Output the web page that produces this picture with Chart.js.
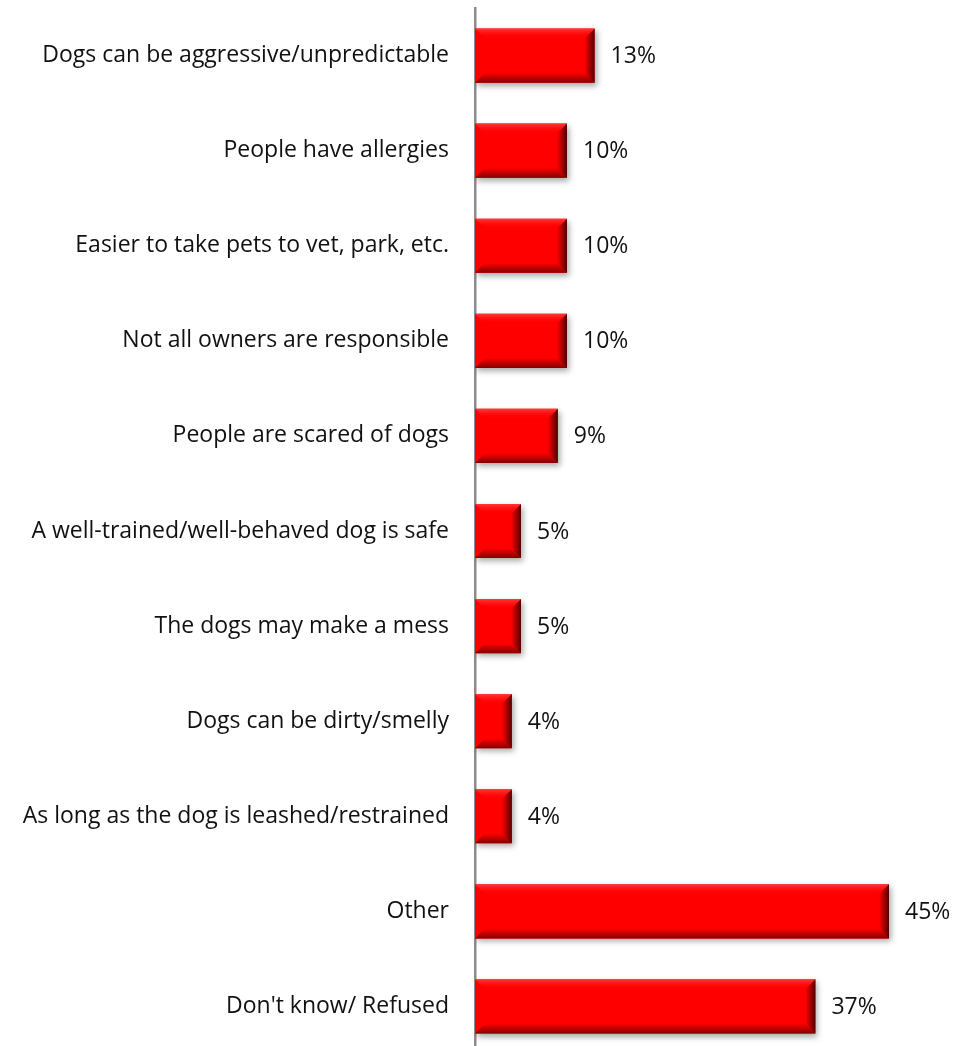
<!DOCTYPE html>
<html>
<head>
<meta charset="utf-8">
<script src="https://cdn.jsdelivr.net/npm/chart.js@4"></script>
<style>
  html, body { margin: 0; padding: 0; background: #fff; overflow: hidden; }
  canvas { display: block; }
</style>
</head>
<body>
<canvas id="myChart" width="968" height="1054"></canvas>
<script>
const categories = [
    'Dogs can be aggressive/unpredictable',
    'People have allergies',
    'Easier to take pets to vet, park, etc.',
    'Not all owners are responsible',
    'People are scared of dogs',
    'A well-trained/well-behaved dog is safe',
    'The dogs may make a mess',
    'Dogs can be dirty/smelly',
    'As long as the dog is leashed/restrained',
    'Other',
    "Don't know/ Refused"
];
const percents = [13, 10, 10, 10, 9, 5, 5, 4, 4, 45, 37];

const FONT = "'Open Sans', sans-serif";

// soft drop shadow under the bars
const barShadow = {
    id: 'barShadow',
    beforeDatasetDraw(chart) {
        const ctx = chart.ctx;
        ctx.save();
        ctx.shadowColor = 'rgba(0,0,0,0.35)';
        ctx.shadowBlur = 6;
        ctx.shadowOffsetX = 2;
        ctx.shadowOffsetY = 3;
    },
    afterDatasetDraw(chart) {
        chart.ctx.restore();
    }
};

// bevelled edges + value labels
const barBevel = {
    id: 'barBevel',
    afterDatasetsDraw(chart) {
        const ctx = chart.ctx;
        const meta = chart.getDatasetMeta(0);
        meta.data.forEach((bar, i) => {
            const left = bar.base, right = bar.x;
            const top = bar.y - bar.height / 2, bottom = bar.y + bar.height / 2;
            const b = Math.min(10, (right - left) / 2);

            // bottom edge
            let g = ctx.createLinearGradient(0, bottom - b, 0, bottom);
            g.addColorStop(0, '#ff0000');
            g.addColorStop(1, '#820000');
            ctx.fillStyle = g;
            ctx.beginPath();
            ctx.moveTo(left, bottom);
            ctx.lineTo(right, bottom);
            ctx.lineTo(right - b, bottom - b);
            ctx.lineTo(left + b, bottom - b);
            ctx.closePath();
            ctx.fill();

            // right edge
            g = ctx.createLinearGradient(right - b, 0, right, 0);
            g.addColorStop(0, '#ff0000');
            g.addColorStop(1, '#500000');
            ctx.fillStyle = g;
            ctx.beginPath();
            ctx.moveTo(right, top);
            ctx.lineTo(right, bottom);
            ctx.lineTo(right - b, bottom - b);
            ctx.lineTo(right - b, top + b);
            ctx.closePath();
            ctx.fill();

            // top highlight
            g = ctx.createLinearGradient(0, top, 0, top + b);
            g.addColorStop(0, '#ff3a3a');
            g.addColorStop(1, 'rgba(255,0,0,0)');
            ctx.fillStyle = g;
            ctx.beginPath();
            ctx.moveTo(left, top);
            ctx.lineTo(right, top);
            ctx.lineTo(right - b, top + b);
            ctx.lineTo(left + b, top + b);
            ctx.closePath();
            ctx.fill();

            // value label
            ctx.fillStyle = '#111';
            ctx.font = '23px ' + FONT;
            ctx.textAlign = 'left';
            ctx.textBaseline = 'middle';
            ctx.fillText(percents[i] + '%', right + 16, bar.y + 1);
        });
    }
};

const ctx = document.getElementById('myChart').getContext('2d');
const myChart = new Chart(ctx, {
    type: 'bar',
    data: {
        labels: categories,
        datasets: [{
            data: percents,
            backgroundColor: '#ff0000',
            borderWidth: 0,
            barPercentage: 0.57,
            categoryPercentage: 1
        }]
    },
    plugins: [barShadow, barBevel],
    options: {
        indexAxis: 'y',
        responsive: false,
        animation: false,
        layout: { padding: { top: 8, right: 33, bottom: 0, left: 0 } },
        plugins: {
            legend: { display: false },
            tooltip: { enabled: false }
        },
        scales: {
            x: {
                display: false,
                min: 0,
                max: 50
            },
            y: {
                afterFit(scale) {
                    scale.width = 475;
                    // labels sit inside the category bands, no extra room needed
                    scale.paddingTop = 0;
                    scale.paddingBottom = 0;
                },
                grid: { display: false, drawTicks: false },
                border: { display: true, color: '#8c8c8c', width: 2.5 },
                ticks: {
                    color: '#111',
                    padding: 26,
                    font: { family: FONT, size: 23 }
                }
            }
        }
    }
});
</script>
</body>
</html>
